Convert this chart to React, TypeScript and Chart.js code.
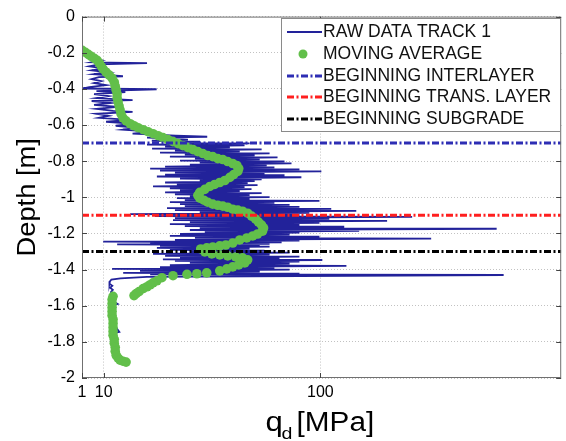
import React, { useEffect, useRef } from "react";
import { Chart, registerables } from "chart.js";

Chart.register(...registerables);

// ---------- data ----------
const rawDepth = [
  -0.220, -0.231, -0.242, -0.253, -0.258, -0.264, -0.275, -0.286, -0.297, -0.308,
  -0.319, -0.330, -0.335, -0.346, -0.357, -0.368, -0.379, -0.390, -0.398, -0.402,
  -0.412, -0.418, -0.429, -0.440, -0.451, -0.462, -0.467, -0.478, -0.489, -0.500,
  -0.511, -0.522, -0.527, -0.538, -0.549, -0.560, -0.571, -0.582, -0.593, -0.604,
  -0.615, -0.626, -0.637, -0.648, -0.659, -0.665, -0.670, -0.681, -0.687, -0.692,
  -0.698, -0.702, -0.709, -0.713, -0.720, -0.724, -0.731, -0.735, -0.742, -0.746,
  -0.753, -0.757, -0.764, -0.768, -0.775, -0.779, -0.786, -0.790, -0.797, -0.801,
  -0.808, -0.812, -0.819, -0.823, -0.830, -0.834, -0.841, -0.845, -0.852, -0.856,
  -0.863, -0.867, -0.874, -0.878, -0.885, -0.889, -0.896, -0.900, -0.907, -0.911,
  -0.918, -0.922, -0.929, -0.933, -0.940, -0.944, -0.951, -0.955, -0.962, -0.966,
  -0.973, -0.977, -0.984, -0.988, -0.995, -0.999, -1.005, -1.009, -1.016, -1.020,
  -1.027, -1.031, -1.038, -1.042, -1.049, -1.053, -1.060, -1.064, -1.071, -1.075,
  -1.082, -1.086, -1.093, -1.097, -1.104, -1.108, -1.115, -1.119, -1.126, -1.130,
  -1.137, -1.141, -1.148, -1.152, -1.159, -1.163, -1.170, -1.174, -1.181, -1.185,
  -1.192, -1.196, -1.203, -1.207, -1.214, -1.218, -1.225, -1.229, -1.236, -1.240,
  -1.245, -1.249, -1.253, -1.257, -1.261, -1.265, -1.269, -1.273, -1.280, -1.284,
  -1.291, -1.295, -1.302, -1.306, -1.313, -1.317, -1.324, -1.328, -1.335, -1.339,
  -1.343, -1.347, -1.352, -1.356, -1.363, -1.367, -1.376, -1.380, -1.387, -1.391,
  -1.396, -1.400, -1.407, -1.411, -1.418, -1.422, -1.426, -1.430,
  -1.440, -1.449, -1.455, -1.465, -1.478, -1.490, -1.500, -1.512, -1.525, -1.545,
  -1.570, -1.590, -1.600, -1.630, -1.660, -1.700, -1.745, -1.752, -1.790, -1.830,
  -1.870, -1.900,
];

const rawQd = [
  6, 4, 9, 5, 28, 8, 4, 10, 5, 12,
  6, 18, 8, 5, 9, 6, 11, 4, 1.2, 32,
  7, 19, 6, 12, 7, 22, 5, 13, 6, 16,
  7, 14, 22, 7, 12, 8, 21, 11, 23, 15,
  24, 18, 30, 22, 40, 53, 28, 45, 30, 50,
  37.5, 70.6, 28.0, 68.5, 35.5, 62.4, 30.1, 75.6, 39.6, 66.5,
  33.4, 78.9, 43.7, 72.7, 37.5, 82.2, 47.9, 74.8, 41.7, 85.1,
  49.9, 88.0, 45.8, 77.7, 35.5, 80.9, 29.3, 91.3, 33.4, 100.4,
  39.6, 76.8, 35.5, 85.1, 32.1, 92.1, 41.7, 75.6, 49.9, 72.7,
  35.5, 69.8, 40.4, 73.9, 30.5, 68.5, 37.5, 71.4, 41.7, 66.5,
  35.5, 75.6, 39.6, 70.6, 45.8, 78.9, 40.4, 70.6, 43.7, 99.6,
  37.5, 80.9, 41.7, 87.2, 43.7, 91.3, 36.3, 104.5, 39.6, 114.9,
  49.9, 95.4, 21.0, 91.3, 31.3, 138.1, 39.6, 103.7, 38.8, 127.7,
  45.8, 99.6, 37.5, 91.3, 43.7, 109.9, 49.9, 173.2, 45.8, 116.1,
  52.0, 91.3, 41.7, 87.2, 37.5, 99.6, 47.9, 146.0, 39.6, 91.3,
  9.8, 83.9, 29.3, 78.9, 15.6, 74.8, 33.4, 78.9, 32.1, 70.6,
  37.5, 76.8, 45.8, 87.2, 30.5, 78.9, 35.5, 91.3, 41.7, 83.0,
  34.6, 100.8, 39.6, 91.3, 45.8, 87.2, 37.5, 110.8, 33.4, 80.9,
  13.5, 87.2, 25.1, 74.8, 18.1, 91.3, 29.3, 176.1,
  28, 17, 13.2, 12.6, 12.4, 13.6, 12.7, 13.8, 13.0, 13.6,
  13.2, 15.8, 13.5, 13.6, 14.0, 14.0, 16.5, 14.2, 14.3, 14.8,
  15.5, 17.0,
];

const avgDepth = [
  -0.187, -0.198, -0.209, -0.220, -0.231, -0.242, -0.258, -0.275, -0.291, -0.308,
  -0.324, -0.341, -0.363, -0.385, -0.407, -0.429, -0.451, -0.473, -0.495, -0.516,
  -0.538, -0.560, -0.577, -0.593, -0.604, -0.615, -0.626, -0.637, -0.648, -0.659,
  -0.670, -0.681, -0.692, -0.703, -0.714, -0.725, -0.736, -0.747, -0.758, -0.769,
  -0.775, -0.786, -0.791, -0.802, -0.813, -0.824, -0.841, -0.857, -0.874, -0.890,
  -0.907, -0.918, -0.929, -0.940, -0.956, -0.973, -0.989, -1.005, -1.016, -1.027,
  -1.038, -1.044, -1.049, -1.055, -1.066, -1.071, -1.077, -1.088, -1.104, -1.121,
  -1.137, -1.154, -1.170, -1.187, -1.203, -1.214, -1.225, -1.236, -1.253, -1.264,
  -1.269, -1.275, -1.280, -1.286, -1.302, -1.313, -1.319, -1.324, -1.330, -1.335,
  -1.346, -1.363, -1.374, -1.385, -1.396, -1.407, -1.418, -1.423, -1.426, -1.434,
  -1.445, -1.462, -1.473, -1.484, -1.495, -1.505, -1.522, -1.533, -1.544, -1.548,
  -1.566, -1.588, -1.610, -1.632, -1.654, -1.676, -1.698, -1.720, -1.742, -1.764,
  -1.786, -1.808, -1.830, -1.852, -1.874, -1.890, -1.901, -1.907, -1.912,
];

const avgQd = [
  1.1, 2.4, 3.6, 4.8, 6.1, 7.3, 8.2, 9.0, 9.8, 11.0,
  12.3, 13.5, 14.4, 14.8, 15.2, 15.6, 15.6, 16.0, 16.4, 16.8,
  17.2, 18.0, 19.3, 21.0, 22.6, 24.3, 26.4, 28.4, 30.5, 32.6,
  34.6, 36.7, 38.8, 40.9, 42.9, 45.0, 47.1, 49.1, 51.2, 53.2,
  55.3, 57.4, 59.5, 61.5, 63.6, 65.3, 66.1, 65.7, 64.0, 62.4,
  60.3, 58.2, 56.1, 54.1, 52.0, 49.9, 49.1, 49.9, 51.6, 53.2,
  55.3, 57.4, 59.5, 61.5, 63.6, 65.7, 67.7, 69.8, 71.4, 73.1,
  74.3, 75.6, 76.4, 76.0, 73.9, 71.9, 69.4, 66.5, 63.6, 60.7,
  58.2, 55.3, 52.8, 50.3, 52.0, 54.9, 58.2, 61.5, 64.8, 67.7,
  69.8, 68.6, 66.1, 63.6, 61.1, 58.2, 52.8, 48.7, 44.6, 38.8,
  34.2, 32.1, 30.5, 29.3, 28.0, 26.4, 24.7, 23.5, 22.6, 13.9,
  13.5, 13.5, 13.5, 13.5, 13.5, 13.9, 13.9, 13.9, 13.9, 13.9,
  14.4, 14.4, 14.8, 14.8, 15.2, 16.0, 16.8, 18.0, 19.3,
];

const layerDepths = [-0.7, -1.1, -1.3];
const layerNames = ["BEGINNING INTERLAYER", "BEGINNING TRANS. LAYER", "BEGINNING SUBGRADE"];
const seriesNames = ["RAW DATA TRACK 1", "MOVING AVERAGE"];
const xTickValues = [1, 10, 100];
const yTickValues = [0, -0.2, -0.4, -0.6, -0.8, -1, -1.2, -1.4, -1.6, -1.8, -2];
const xRange = [1, 200];
const yRange = [-2, 0];

// ---------- styles ----------
const FONT = "'Liberation Sans', Arial, Helvetica, sans-serif";
const RAW_COLOR = "#22229a";
const AVG_COLOR = "#62bf4a";
const LAYER_COLORS = ["#2d2db4", "#ff1f1f", "#000000"];
const FRAME_COLOR = "#707070";

const decorPlugin = {
  id: "decor",
  afterDatasetsDraw(chart: any) {
    const { ctx, chartArea: a, scales } = chart;
    ctx.save();
    ctx.strokeStyle = FRAME_COLOR;
    ctx.lineWidth = 1;
    ctx.strokeRect(a.left + 0.5, a.top + 0.5, a.right - a.left - 1, a.bottom - a.top - 1);
    ctx.strokeStyle = "#444";
    ctx.beginPath();
    yTickValues.forEach((v) => {
      const y = Math.round(scales.y.getPixelForValue(v)) + 0.5;
      ctx.moveTo(a.left, y);
      ctx.lineTo(a.left + 5, y);
      ctx.moveTo(a.right - 5, y);
      ctx.lineTo(a.right, y);
    });
    xTickValues.forEach((v) => {
      const x = Math.round(scales.x.getPixelForValue(v)) + 0.5;
      ctx.moveTo(x, a.top);
      ctx.lineTo(x, a.top + 5);
      ctx.moveTo(x, a.bottom - 5);
      ctx.lineTo(x, a.bottom);
    });
    ctx.stroke();
    ctx.restore();
  },
  afterDraw(chart: any) {
    const { ctx, chartArea: a } = chart;
    const ds = chart.data.datasets;
    ctx.save();
    // legend box
    const bx = 281.5, by = 18.5, bw = 279, bh = 113;
    ctx.fillStyle = "#fff";
    ctx.fillRect(bx, by, bw, bh);
    ctx.strokeStyle = "#8a8a8a";
    ctx.lineWidth = 1;
    ctx.strokeRect(bx, by, bw, bh);
    const rowY = [32, 54, 76, 97, 119];
    ctx.font = `17.5px ${FONT}`;
    ctx.textBaseline = "middle";
    ctx.textAlign = "left";
    ds.forEach((d: any, i: number) => {
      const y = rowY[i];
      if (i === 1) {
        ctx.fillStyle = d.pointBackgroundColor;
        ctx.beginPath();
        ctx.arc(303, y, 4.5, 0, Math.PI * 2);
        ctx.fill();
      } else {
        ctx.strokeStyle = d.borderColor;
        ctx.lineWidth = d.borderWidth;
        ctx.setLineDash(d.borderDash || []);
        ctx.beginPath();
        ctx.moveTo(287, y);
        ctx.lineTo(322, y);
        ctx.stroke();
        ctx.setLineDash([]);
      }
      ctx.fillStyle = "#111";
      ctx.fillText(d.label, 323, y + 0.5);
    });

    // x title: q_d [MPa]
    ctx.fillStyle = "#000";
    ctx.textBaseline = "alphabetic";
    const drawScaled = (t: string, x: number, y: number, size: number, sx: number) => {
      ctx.save();
      ctx.translate(x, y);
      ctx.scale(sx, 1);
      ctx.font = `${size}px ${FONT}`;
      ctx.fillText(t, 0, 0);
      ctx.restore();
    };
    const x0 = (a.left + a.right) / 2 - 56;
    drawScaled("q", x0, 431, 27, 1.15);
    drawScaled("d", x0 + 16, 439, 17, 1.15);
    drawScaled("[MPa]", x0 + 31, 431, 27, 1.1);

    // y title
    ctx.save();
    ctx.translate(35, (a.top + a.bottom) / 2);
    ctx.rotate(-Math.PI / 2);
    ctx.scale(1.05, 1);
    ctx.textAlign = "center";
    ctx.font = `26px ${FONT}`;
    ctx.fillText("Depth [m]", 0, 0);
    ctx.restore();

    ctx.restore();
  },
};

export default function App() {
  const canvasRef = useRef<HTMLCanvasElement | null>(null);

  useEffect(() => {
    const canvas = canvasRef.current;
    if (!canvas) return;
    const nRaw = Math.min(rawDepth.length, rawQd.length);
    const nAvg = Math.min(avgDepth.length, avgQd.length);
    const rawData = Array.from({ length: nRaw }, (_, i) => ({ x: rawQd[i], y: rawDepth[i] }));
    const avgData = Array.from({ length: nAvg }, (_, i) => ({ x: avgQd[i], y: avgDepth[i] }));

    const layerSets = layerDepths.map((d, i) => ({
      label: layerNames[i],
      data: [
        { x: xRange[0], y: d },
        { x: xRange[1], y: d },
      ],
      showLine: true,
      borderColor: LAYER_COLORS[i],
      borderWidth: 3,
      borderDash: [7, 2.5, 2, 2.5],
      pointRadius: 0,
      order: 0,
    }));

    const chart = new Chart(canvas, {
      type: "scatter",
      data: {
        datasets: [
          {
            label: seriesNames[0],
            data: rawData,
            showLine: true,
            borderColor: RAW_COLOR,
            borderWidth: 1.8,
            pointRadius: 0,
            order: 2,
          } as any,
          {
            label: seriesNames[1],
            data: avgData,
            showLine: false,
            pointRadius: 4.8,
            pointBackgroundColor: AVG_COLOR,
            pointBorderWidth: 0,
            borderColor: AVG_COLOR,
            order: 1,
          } as any,
          ...layerSets,
        ],
      },
      options: {
        responsive: false,
        animation: false,
        events: [],
        layout: { padding: { top: 14, right: 4, left: 0, bottom: 0 } },
        plugins: {
          legend: { display: false },
          tooltip: { enabled: false },
        },
        scales: {
          x: {
            type: "linear",
            min: xRange[0],
            max: xRange[1],
            afterBuildTicks: (s: any) => {
              s.ticks = xTickValues.map((v) => ({ value: v }));
            },
            afterFit: (s: any) => {
              s.height = 63;
            },
            ticks: {
              autoSkip: false,
              maxRotation: 0,
              padding: 5,
              color: "#000",
              font: { family: FONT, size: 16 },
            },
            grid: { color: "#c2c2c2", lineWidth: 1, drawTicks: false },
            border: { display: false, dash: [1, 2] },
          },
          y: {
            type: "linear",
            min: yRange[0],
            max: yRange[1],
            afterBuildTicks: (s: any) => {
              s.ticks = yTickValues.map((v) => ({ value: v }));
            },
            afterFit: (s: any) => {
              s.width = 82;
            },
            ticks: {
              autoSkip: false,
              padding: 7,
              color: "#000",
              font: { family: FONT, size: 16 },
              callback: (v: any) => {
                const r = Math.round(Number(v) * 10) / 10;
                return r === 0 ? "0" : String(r);
              },
            },
            grid: { color: "#c2c2c2", lineWidth: 1, drawTicks: false },
            border: { display: false, dash: [1, 2] },
          },
        },
      } as any,
      plugins: [decorPlugin],
    });

    return () => {
      chart.destroy();
    };
  }, []);

  return (
    <div style={{ position: "fixed", left: 0, top: 0, width: 566, height: 441, background: "#fff" }}>
      <canvas ref={canvasRef} width={566} height={441} style={{ width: 566, height: 441, display: "block" }} />
    </div>
  );
}
